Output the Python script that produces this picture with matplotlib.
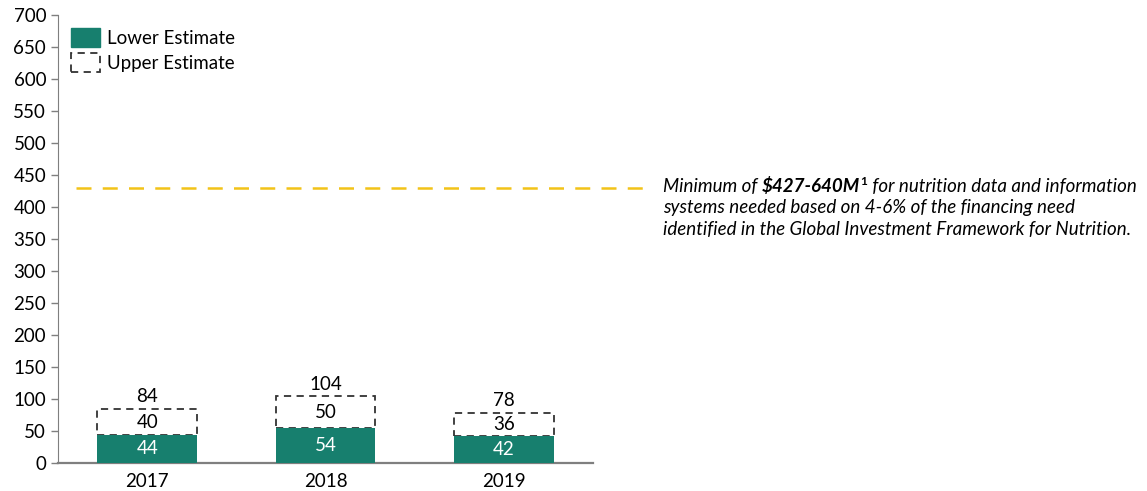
import matplotlib.pyplot as plt
from matplotlib.patches import Patch

plt.rcParams['font.family'] = ['Lato', 'DejaVu Sans']

# Data
years = ['2017', '2018', '2019']
lower = [44, 54, 42]
upper_extra = [40, 50, 36]
totals = [84, 104, 78]
need_line = 430

teal = '#177F6E'
gold = '#F2C318'
grey = '#7F7F7F'

fig = plt.figure(figsize=(11.47, 4.91), dpi=100)
ax = fig.add_axes([0.0506, 0.057, 0.4664, 0.9125])

x = range(len(years))
w = 0.56
ax.bar(x, upper_extra, bottom=lower, width=w, facecolor='none', edgecolor='#333333',
       linestyle=(0, (4, 3)), linewidth=1.3, zorder=2)
ax.bar(x, lower, width=w, color=teal, zorder=3)

fs = 13.5
for i in x:
    ax.text(i, lower[i] / 2, str(lower[i]), color='white', ha='center', va='center', fontsize=fs, zorder=4)
    ax.text(i, lower[i] + upper_extra[i] / 2, str(upper_extra[i]), color='black', ha='center', va='center', fontsize=fs)
    ax.text(i, totals[i] + 6, str(totals[i]), color='black', ha='center', va='bottom', fontsize=fs)

# Needs line, runs past the axes toward the note
ax.plot([-0.4, 2.81], [need_line, need_line], color=gold, linestyle=(0, (6, 4.5)), linewidth=1.8, clip_on=False)

ax.set_xlim(-0.5, 2.5)
ax.set_ylim(0, 700)
ax.set_yticks(range(0, 701, 50))
ax.set_xticks(list(x))
ax.set_xticklabels(years)
ax.tick_params(axis='y', labelsize=fs, color=grey, length=5, width=1)
ax.tick_params(axis='x', labelsize=fs, length=0, pad=7)
for s in ['top', 'right']:
    ax.spines[s].set_visible(False)
ax.spines['left'].set_color(grey)
ax.spines['bottom'].set_color(grey)
ax.spines['bottom'].set_linewidth(1.6)

handles = [Patch(facecolor=teal, edgecolor=teal, label='Lower Estimate'),
           Patch(facecolor='none', edgecolor='#333333', linestyle=(0, (4, 3)), linewidth=1.3, label='Upper Estimate')]
ax.legend(handles=handles, loc='upper left', bbox_to_anchor=(0.0, 1.0), frameon=False, fontsize=fs,
          handlelength=1.55, handleheight=1.2, handletextpad=0.35, labelspacing=0.3, borderaxespad=0.3)

# Note text
t1 = fig.text(663 / 1147, 1 - 192 / 491, 'Minimum of ', fontsize=fs, style='italic', va='baseline')
t2 = ax.annotate('\\$427-640M', xy=(1, 0), xycoords=t1, fontsize=fs, style='italic', weight='bold', va='bottom')
ax.annotate('1', xy=(1, 0.45), xycoords=t2, fontsize=8.5, weight='bold', va='bottom')
ax.annotate(' for nutrition data and information', xy=(1, 0), xycoords=t2, xytext=(5.5, 0),
            textcoords='offset points', fontsize=fs, style='italic', va='bottom')
fig.text(663 / 1147, 1 - 213 / 491, 'systems needed based on 4-6% of the financing need', fontsize=fs, style='italic', va='baseline')
fig.text(663 / 1147, 1 - 235 / 491, 'identified in the Global Investment Framework for Nutrition.', fontsize=fs, style='italic', va='baseline')

fig.savefig('out.png', dpi=100)
